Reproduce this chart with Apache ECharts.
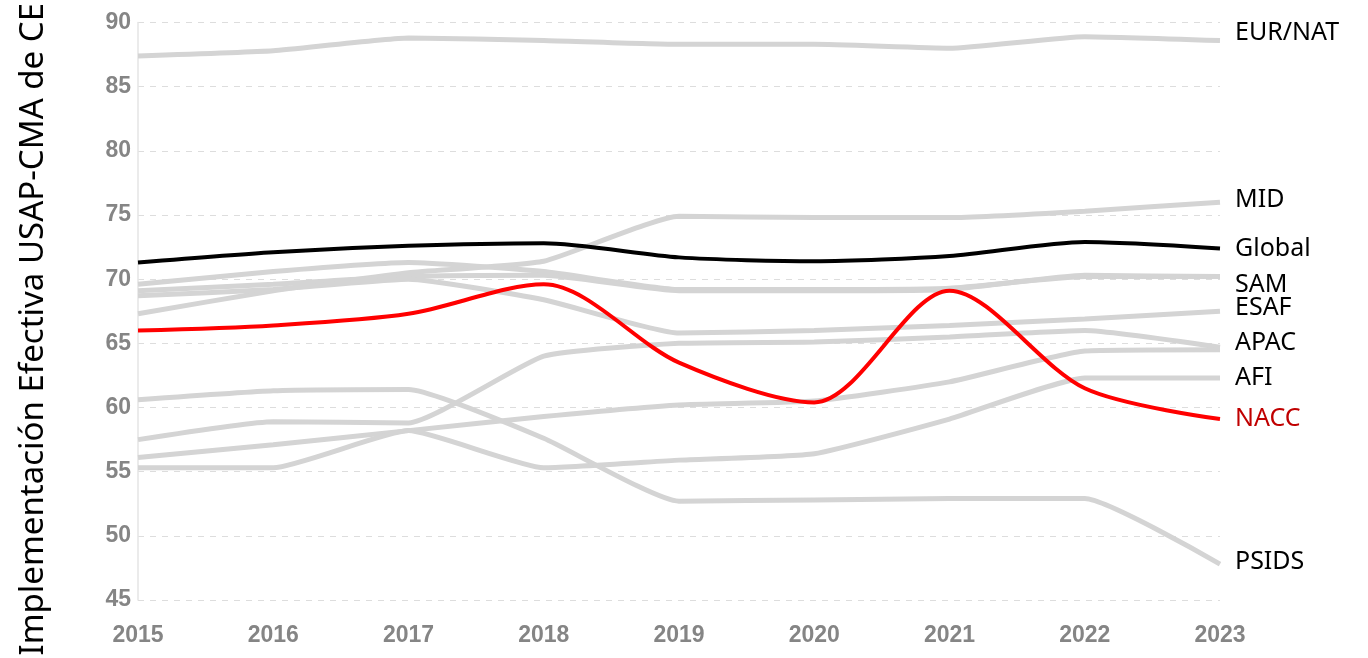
<!DOCTYPE html>
<html>
<head>
<meta charset="utf-8">
<script src="https://cdn.jsdelivr.net/npm/echarts@6/dist/echarts.min.js"></script>
<style>
html,body{margin:0;padding:0;background:#fff;}
#c{width:1368px;height:658px;}
</style>
</head>
<body>
<div id="c"></div>
<script>
const years = ['2015','2016','2017','2018','2019','2020','2021','2022','2023'];
const yTicks = [45, 50, 55, 60, 65, 70, 75, 80, 85, 90];

const eurNat = [87.4, 87.8, 88.8, 88.6, 88.3, 88.3, 88.0, 88.9, 88.6];
const mid    = [67.3, 69.1, 70.5, 71.4, 74.9, 74.8, 74.8, 75.3, 76.0];
const sam    = [69.6, 70.6, 71.3, 70.6, 69.2, 69.2, 69.3, 70.2, 70.2];
const sam2   = [69.1, 69.6, 70.2, 70.3, 69.1, 69.1, 69.2, 70.3, 70.2];
const esaf   = [68.7, 69.2, 70.0, 68.4, 65.8, 66.0, 66.4, 66.9, 67.5];
const apac   = [57.5, 58.9, 58.8, 64.0, 65.0, 65.1, 65.5, 66.0, 64.7];
const other  = [56.1, 57.1, 58.2, 59.3, 60.2, 60.5, 62.0, 64.4, 64.5];
const afi    = [55.3, 55.3, 58.2, 55.3, 55.9, 56.4, 59.1, 62.3, 62.3];
const psids  = [60.6, 61.3, 61.4, 57.6, 52.7, 52.8, 52.9, 52.9, 47.8];
const globalV= [71.3, 72.1, 72.6, 72.8, 71.7, 71.4, 71.8, 72.9, 72.4];
const nacc   = [66.0, 66.4, 67.3, 69.6, 63.5, 60.4, 69.1, 61.5, 59.1];

const greyColor = '#d4d4d4';
const labelFont = 'Noto Sans';

function greySeries(name, data, label, dy) {
  return {
    name: name, type: 'line', data: data, smooth: 0.15, symbol: 'none',
    lineStyle: { color: greyColor, width: 5 },
    itemStyle: { color: greyColor },
    z: 2,
    endLabel: label ? {
      show: true, formatter: label, distance: 15, offset: [0, dy || 0],
      color: '#000', fontFamily: labelFont, fontSize: 25
    } : { show: false }
  };
}

const chart = echarts.init(document.getElementById('c'), null, { renderer: 'canvas' });
chart.setOption({
  animation: false,
  grid: { left: 138, right: 148, top: 20, bottom: 58, containLabel: false },
  xAxis: {
    type: 'category', data: years, boundaryGap: false,
    axisLine: { show: false }, axisTick: { show: false },
    axisLabel: { color: '#858585', fontFamily: 'Liberation Sans', fontSize: 23, fontWeight: 'bold', margin: 24 },
    splitLine: { show: false }
  },
  yAxis: {
    type: 'value', min: yTicks[0], max: yTicks[yTicks.length - 1], interval: 5,
    name: 'Implementación Efectiva USAP-CMA de CE',
    nameLocation: 'middle', nameGap: 88, nameRotate: 90,
    nameTextStyle: { color: '#000', fontFamily: labelFont, fontSize: 33, padding: [0, 36, 0, 0] },
    axisLine: { show: true, lineStyle: { color: '#e4e4e4', width: 1.5 } },
    axisTick: { show: false },
    axisLabel: { color: '#858585', fontFamily: 'Liberation Sans', fontSize: 23, fontWeight: 'bold', margin: 7 },
    splitLine: { show: true, lineStyle: { color: '#dddddd', type: [6, 6], width: 1 } }
  },
  series: [
    greySeries('EUR/NAT', eurNat, 'EUR/NAT', -8),
    greySeries('MID', mid, 'MID', -2),
    greySeries('SAM', sam, 'SAM', 8),
    greySeries('SAM 2', sam2, null),
    greySeries('ESAF', esaf, 'ESAF', -3),
    greySeries('APAC', apac, 'APAC', -4),
    greySeries('Otra', other, null),
    greySeries('AFI', afi, 'AFI', 0),
    greySeries('PSIDS', psids, 'PSIDS', -2),
    {
      name: 'Global', type: 'line', data: globalV, smooth: 0.25, symbol: 'none', z: 3,
      lineStyle: { color: '#000', width: 4 }, itemStyle: { color: '#000' },
      endLabel: { show: true, formatter: 'Global', distance: 15, color: '#000', fontFamily: labelFont, fontSize: 25 }
    },
    {
      name: 'NACC', type: 'line', data: nacc, smooth: 0.3, symbol: 'none', z: 4,
      lineStyle: { color: '#ff0000', width: 4 }, itemStyle: { color: '#ff0000' },
      endLabel: { show: true, formatter: 'NACC', distance: 15, color: '#c00000', fontFamily: labelFont, fontSize: 25 }
    }
  ]
});
</script>
</body>
</html>
